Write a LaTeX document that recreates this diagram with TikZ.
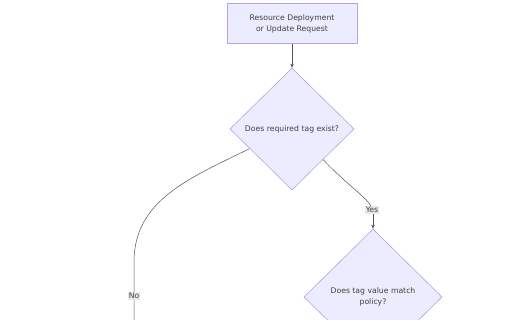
\documentclass[tikz,border=0pt]{standalone}
\usepackage{fontspec}
\setmainfont{DejaVu Sans}
\usetikzlibrary{shapes.geometric,arrows.meta,calc}
\definecolor{nodefill}{HTML}{ECECFF}
\definecolor{nodeline}{HTML}{B4A2EA}
\definecolor{edgeline}{HTML}{555555}
\definecolor{lblbg}{HTML}{E8E8E8}
\tikzset{
  procbox/.style={draw=nodeline,fill=nodefill,line width=0.6pt,minimum width=130pt,minimum height=40pt,inner sep=0pt,align=center,font=\fontsize{7.7}{11}\selectfont,text=black!75},
  decision/.style={draw=nodeline,fill=nodefill,line width=0.6pt,diamond,inner sep=0pt,align=center,font=\fontsize{7.7}{11}\selectfont,text=black!75},
  link/.style={draw=edgeline,line width=0.5pt},
  linkarrow/.style={link,-{Stealth[length=4pt,width=3.5pt]}},
  edgelabel/.style={fill=lblbg,inner sep=1pt,font=\fontsize{7.7}{9}\selectfont,text=black!75}
}
\begin{document}
\begin{tikzpicture}[x=1pt,y=-1pt]
\useasboundingbox (0,0) rectangle (512,320);
\clip (0,0) rectangle (512,320);
\fill[white] (0,0) rectangle (512,320);
\node[procbox] (req) at (292,23.5) {Resource Deployment\\or Update Request};
\node[decision,minimum width=124pt,minimum height=122pt] (d1) at (292,129) {Does required tag exist?};
\node[decision,minimum width=138pt,minimum height=136pt] (d2) at (373,297) {Does tag value match\\policy?};
\coordinate (nostart) at ($(d1.west)!0.32!(d1.south)$);
\coordinate (noend) at (134,325);
\coordinate (yesbend) at (373,212);
\draw[linkarrow] (req) -- (d1.north);
\draw[link] (d1.south east) .. controls (352,190) and (372,200) .. (yesbend);
\draw[linkarrow] (yesbend) -- (d2.north);
\node[edgelabel] (yes) at (372,210) {Yes};
\draw[link] (nostart) .. controls (190,178) and (134,200) .. (134,262) -- (noend);
\node[edgelabel] (no) at (134,296) {No};
\end{tikzpicture}
\end{document}
